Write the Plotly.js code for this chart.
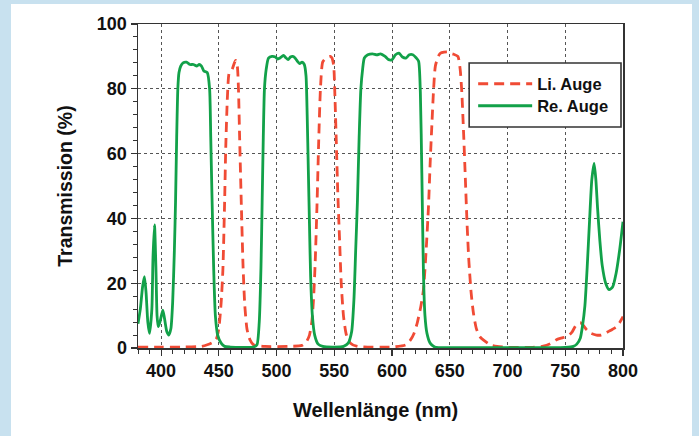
<!DOCTYPE html>
<html>
<head>
<meta charset="utf-8">
<script src="https://cdn.plot.ly/plotly-3.0.1.min.js"></script>
<style>
html,body{margin:0;padding:0;background:#c8e1ef;width:699px;height:436px;overflow:hidden;}
#bg{position:absolute;left:11px;top:4px;width:681px;height:432px;background:#ffffff;}
#plot{position:absolute;left:0;top:0;width:699px;height:436px;}
</style>
</head>
<body>
<div id="bg"></div>
<div id="plot"></div>
<script>
// Re. Auge (green, solid)
const reX = [380,382,384,385.6,387,388.5,390,392,393,394.3,395.5,396.5,397.5,399,401.5,403,405,406.7,408.5,410,411.5,412.5,413.5,414.5,415.5,417,419,422,425,428,431,433,435,437,440,442,443,444,445.5,447,449,452,455,460,470,480,483,485,486.5,487.5,488.5,489.5,491,493,496,499,501,503,506,508,510,512,514,516,518,520,522,524,525.5,526.5,527.5,528.5,529.5,531,533,536,540,550,558,562,565,567,568.5,570,571.5,573,574.5,576,579,583,587,590,594,597,600,603,606,609,612,615,618,621,623,624.5,625.8,627.2,628.5,630.2,633,637,650,700,750,757,760,763,765,767,769,771,773,775,776.5,778,780,782,785,788,791,794,797,800];
const reY = [7.5,12,19,22,17,8,4.5,12,28,38,25,10,6.6,8,11.7,9,5,4,6,14,30,45,65,80,85,87,88,88.2,87.5,87.5,87,87.5,87,85.5,85,80,65,48,25,10,4,1.5,0.5,0.3,0.2,0.3,1,8,25,45,65,80,86,89.5,90,89.8,89.2,89.5,90.3,89.6,89,89.8,90,89.5,88.5,87.8,88.2,87.5,84,72,55,38,22,10,4,1.2,0.5,0.3,0.5,1.5,5,15,30,45,65,80,86,89.5,90.5,90.8,90.5,90.8,90,89,89,90.5,91,89.8,89.5,90.5,90.5,89.5,88.5,79,54,23,10,4.6,1.5,0.3,0.1,0.1,0.2,0.5,1.2,3,7,13,25,39,52,57,52,43,33,25.5,20,18,18.8,23,30,39];
// Li. Auge (red, dashed)
const liX = [380,400,420,435,440,445,448,450,452,453.5,455,456,457.5,459,461.5,463,464.5,466,467,468,469.5,471,472.5,474.5,477,480,490,510,522,526,528.5,530.5,532,533.5,535,536.5,538,540,543,546.5,548,549.5,550.5,551.7,553,554.6,556,558,560.5,564,570,600,612,616,619,622,625,627.2,629.5,631.6,633,634.5,636,637.5,640,642,645,648,650,653,657,659,660.4,662,663.3,665,666.5,668.5,670.5,673,676,679,685,691,700,720,730,737,742,748,752.7,756,758.5,761,763,765.5,768.6,772,777,781,784.4,788,791,794.5,797,800];
const liY = [0.3,0.3,0.3,0.5,1,1.8,3,6,14,24,45,62,78,85,86,87.5,88.8,87,80,65,44,25,13,5.6,2.5,1,0.5,0.5,0.8,2,4,8,15,27,44,64,80,88.3,89.5,90,89.5,87,78,64,48,33,20,9.7,4,1.5,0.5,0.3,1,2.5,4.5,8,13,18,30,44,57,69,80,87,90,91,91.3,91.4,91,90.7,90,86,79,66,54,38,27,17,10.7,6,3.5,2.5,1,0.5,0.2,0.2,0.5,1.3,2.5,3.2,3.8,5,6.6,7.6,7.8,7,5.6,4.6,4,4,4.5,5.2,5.8,6.6,7.8,9.7];

const xTicks = [400,450,500,550,600,650,700,750,800];
const yTicks = [0,20,40,60,80,100];

const FONT = 'Liberation Sans, Arial, Helvetica, sans-serif';

const traces = [
  {x: liX, y: liY, name: 'Li. Auge', type: 'scatter', mode: 'lines', legend: 'legend',
   line: {color: '#f04b35', width: 2.8, dash: '10px,6px', shape: 'spline', smoothing: 0.6}},
  {x: reX, y: reY, name: 'Re. Auge', type: 'scatter', mode: 'lines', legend: 'legend2',
   line: {color: '#12a149', width: 2.8, shape: 'spline', smoothing: 0.6}}
];

const axisCommon = {
  showline: true, mirror: true, linecolor: '#333333', linewidth: 1.5,
  showgrid: true, gridcolor: '#555555', griddash: 'dot', gridwidth: 1,
  zeroline: false, ticks: 'outside', ticklen: 6, tickwidth: 1.2, tickcolor: '#333333',
  tickfont: {family: FONT, size: 18, color: '#111111', weight: 'bold'}
};

const legendCommon = {
  xanchor: 'left', yanchor: 'middle', borderwidth: 0, bgcolor: 'rgba(0,0,0,0)', itemwidth: 54,
  font: {family: FONT, size: 16.5, color: '#111111', weight: 'bold'}
};

const layout = {
  width: 699, height: 436,
  margin: {l: 137.5, r: 76, t: 24, b: 88},
  paper_bgcolor: 'rgba(0,0,0,0)', plot_bgcolor: 'rgba(0,0,0,0)',
  showlegend: true,
  legend: Object.assign({}, legendCommon, {x: (473 - 137.5) / 485.5, y: (348 - 84) / 324}),
  legend2: Object.assign({}, legendCommon, {x: (473 - 137.5) / 485.5, y: (348 - 106) / 324}),
  shapes: [
    {type: 'rect', xref: 'paper', yref: 'paper',
     x0: (469 - 137.5) / 485.5, x1: (621 - 137.5) / 485.5,
     y0: (348 - 127) / 324, y1: (348 - 63) / 324,
     line: {color: '#333333', width: 1.6}, fillcolor: '#ffffff', layer: 'above'}
  ],
  xaxis: Object.assign({}, axisCommon, {
    range: [380, 800], tickvals: xTicks, ticktext: xTicks.map(String),
    minor: {dtick: 10, tick0: 380, ticks: 'outside', ticklen: 4, tickcolor: '#333333', tickwidth: 1, showgrid: false}
  }),
  yaxis: Object.assign({}, axisCommon, {
    range: [0, 100], tickvals: yTicks, ticktext: yTicks.map(String),
    minor: {dtick: 4, tick0: 0, ticks: 'outside', ticklen: 4, tickcolor: '#333333', tickwidth: 1, showgrid: false}
  }),
  annotations: [
    {text: 'Wellenlänge (nm)', xref: 'paper', yref: 'paper', x: 0.49, y: -0.19,
     xanchor: 'center', yanchor: 'middle', showarrow: false,
     font: {family: FONT, size: 20, color: '#111111', weight: 'bold'}},
    {text: 'Transmission (%)', xref: 'paper', yref: 'paper', x: -0.151, y: 0.5,
     xanchor: 'center', yanchor: 'middle', showarrow: false, textangle: -90,
     font: {family: FONT, size: 19.5, color: '#111111', weight: 'bold'}}
  ]
};

Plotly.newPlot('plot', traces, layout, {displayModeBar: false, staticPlot: true});
</script>
</body>
</html>
